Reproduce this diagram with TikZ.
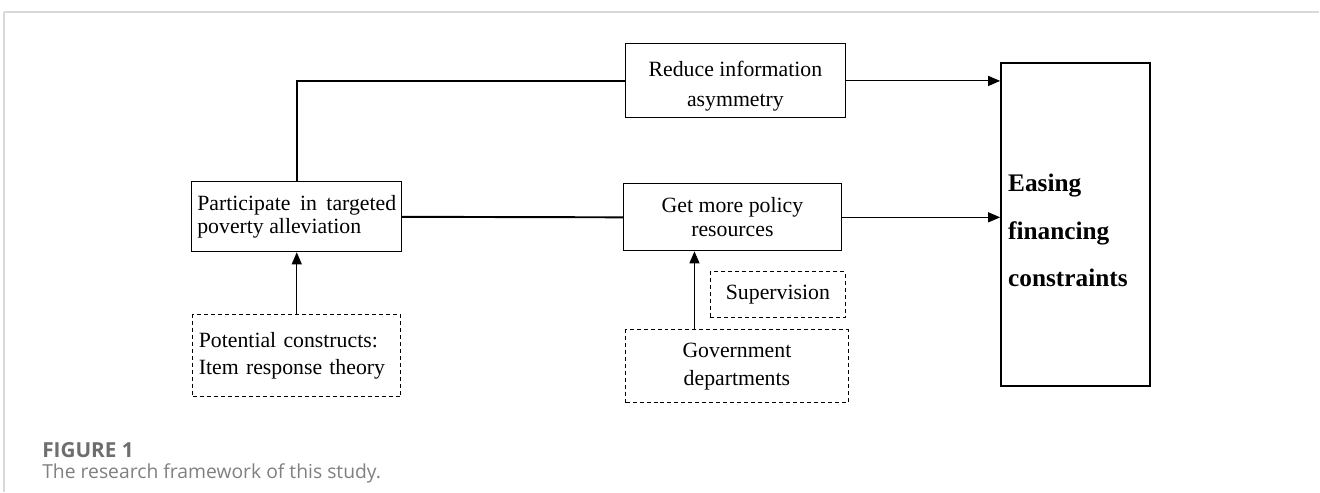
\documentclass[tikz,border=0pt]{standalone}
\usepackage{fontspec}
\setmainfont{Liberation Serif}
\newfontfamily\capfont{Open Sans}
\usetikzlibrary{arrows.meta, positioning}
\definecolor{framegray}{HTML}{D9D9D9}
\definecolor{capgray}{HTML}{6E6E6E}
\definecolor{capgraylight}{HTML}{808080}

\begin{document}
\begin{tikzpicture}
[x=0.02cm, y=-0.02cm,
 >={Triangle[length=0.24cm, width=0.2cm]},
 box/.style={draw, line width=0.6pt, inner sep=0pt, align=center,
 font=\fontsize{12.4}{14}\selectfont},
 dashbox/.style={box, dash pattern=on 0.08cm off 0.06cm},
 link/.style={line width=1.1pt},
 arr/.style={->, line width=0.6pt},
]

% frame of the figure
\draw[framegray, line width=1.2pt] (4,12) -- (1320,12);
\draw[framegray, line width=0.6pt] (4,12) -- (4,492);

\node[box, minimum width=4.4cm, minimum height=1.48cm,
 font=\fontsize{12.4}{17}\selectfont]           (reduce) at (736,81) {\rule{0pt}{14.5pt}Reduce information\\asymmetry};
\node[box, minimum width=4.36cm, minimum height=1.34cm,
 font=\fontsize{12.4}{13.8}\selectfont]         (getmore) at (733,217.5) {Get more policy\\resources};
\node[box, minimum height=1.4cm, text width=3.98cm, inner xsep=0.11cm,
 align=justify, font=\fontsize{12.4}{13.2}\selectfont] (participate) at (297,217) {Participate in targeted poverty alleviation};
\node[dashbox, minimum height=1.64cm, text width=3.92cm, inner xsep=0.12cm,
 align=left, font=\fontsize{12.4}{15.5}\selectfont] (potential) at (297,356) {Potential constructs:\\Item response theory};
\node[dashbox, minimum width=2.7cm, minimum height=0.92cm] (supervision) at (778.5,295) {Supervision};
\node[dashbox, minimum width=4.46cm, minimum height=1.46cm,
 font=\fontsize{12.4}{16}\selectfont]           (govt) at (737.5,366.5) {Government\\departments};
\node[box, line width=1.2pt, minimum height=6.46cm, text width=2.7cm, inner xsep=0.14cm,
 align=left, font=\bfseries\fontsize{14.4}{27}\selectfont] (easing) at (1076.5,224.5) {\rule{0pt}{17pt}Easing\\financing\\constraints};

\coordinate (gtop) at ([xshift=-0.85cm]govt.north);

\draw[link] (participate.north) |- (reduce.west);
\draw[link] (participate.east) -- (getmore.west);
\draw[arr]  (reduce.east) -- (reduce.east -| easing.west);
\draw[arr]  (getmore.east) -- (getmore.east -| easing.west);
\draw[arr]  (potential.north) -- (participate.south);
\draw[arr]  (gtop) -- (gtop |- getmore.south);

% caption
\node[anchor=west, inner sep=0pt, text=capgray, font=\capfont\bfseries\fontsize{11.8}{12}\selectfont]
 (figno) at (42,450) {FIGURE 1};
\node[anchor=west, inner sep=0pt, text=capgraylight, font=\capfont\fontsize{11}{12}\selectfont]
 (figcap) at (42,474) {The research framework of this study.};

\useasboundingbox (0,0) rectangle (1320,492);
\end{tikzpicture}
\end{document}
